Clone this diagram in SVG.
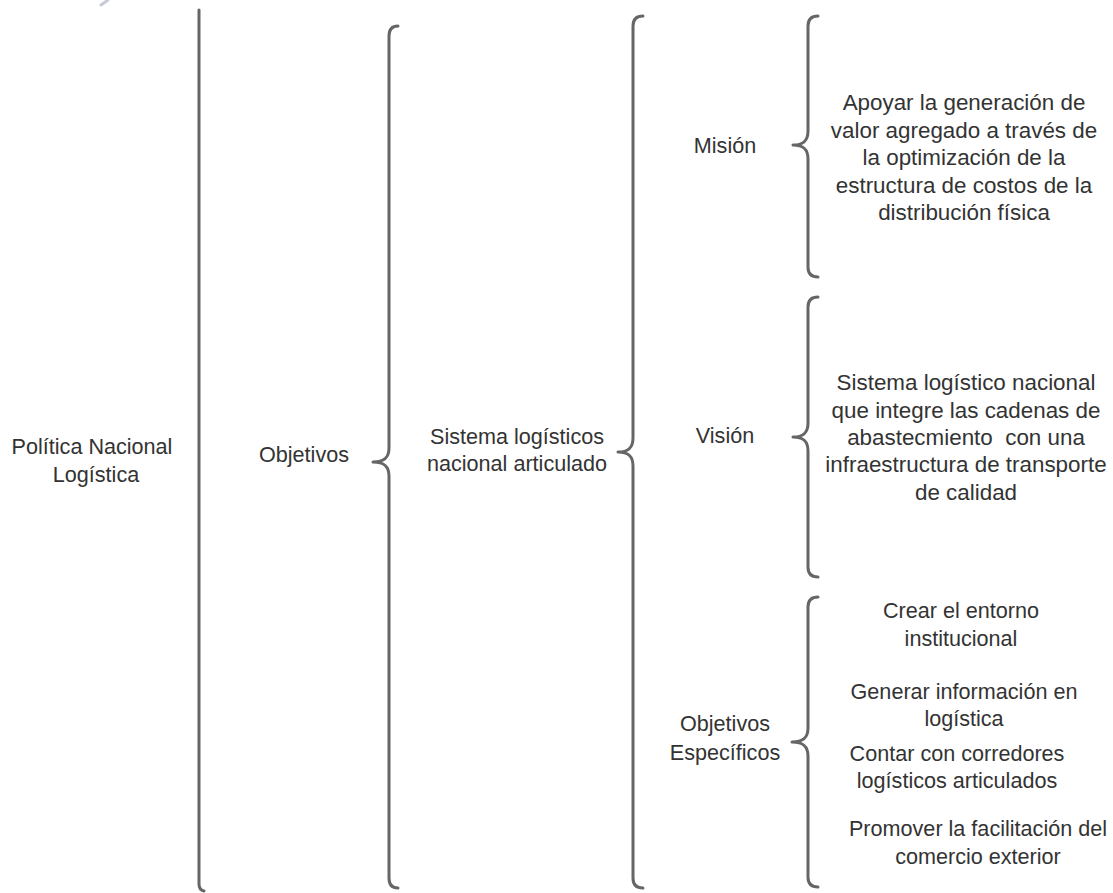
<svg xmlns="http://www.w3.org/2000/svg" width="1113" height="893" viewBox="0 0 1113 893">
  <style>
    .brace { fill: none; stroke: #666666; stroke-width: 3; stroke-linecap: round; stroke-linejoin: round; }
    text { font-family: "Liberation Sans", Arial, sans-serif; font-size: 21.6px; fill: #333333; text-anchor: middle; }
    .big text { font-size: 22.4px; }
  </style>
  <rect width="1113" height="893" fill="#ffffff"/>
  <!-- small mark at the top edge -->
  <path d="M108 0 L101 5" stroke="#c7cbd8" stroke-width="3" stroke-linecap="round" fill="none"/>

  <!-- braces linking each level to the next -->
  <g id="connectors">
    <path class="brace" d="M199 10 L199 884 Q199 890 204 891"/>
    <path class="brace" d="M398 26 Q389 26 389 36 L389 448 C389 458 384 462 373 462 C384 462 389 466 389 476 L389 878 Q389 888 398 888"/>
    <path class="brace" d="M643 16 Q633 16 633 26 L633 438 C633 448 628 452 618 452 C628 452 633 456 633 466 L633 878 Q633 888 643 888"/>
    <path class="brace" d="M818 16 Q808 16 808 26 L808 131 C808 141 803 145 793 145 C803 145 808 149 808 159 L808 267 Q808 277 818 277"/>
    <path class="brace" d="M818 297 Q808 297 808 307 L808 423 C808 433 803 437 793 437 C803 437 808 441 808 451 L808 567 Q808 577 818 577"/>
    <path class="brace" d="M818 597 Q808 597 808 607 L808 728 C808 738 803 742 792 742 C803 742 808 746 808 756 L808 877 Q808 887 818 887"/>
  </g>

  <g id="politica">
    <text x="92" y="454">Política Nacional</text>
    <text x="96" y="482">Logística</text>
  </g>
  <g id="objetivos">
    <text x="304" y="462">Objetivos</text>
  </g>
  <g id="sistema">
    <text x="517" y="444">Sistema logísticos</text>
    <text x="517" y="471">nacional articulado</text>
  </g>
  <g id="mision">
    <text x="725" y="153">Misión</text>
  </g>
  <g id="vision">
    <text x="725" y="443">Visión</text>
  </g>
  <g id="objetivos-especificos">
    <text x="725" y="731">Objetivos</text>
    <text x="725" y="760">Específicos</text>
  </g>
  <g id="mision-texto" class="big">
    <text x="964" y="110">Apoyar la generación de</text>
    <text x="964" y="138">valor agregado a través de</text>
    <text x="964" y="165">la optimización de la</text>
    <text x="964" y="193">estructura de costos de la</text>
    <text x="964" y="220">distribución física</text>
  </g>
  <g id="vision-texto" class="big">
    <text x="966" y="390">Sistema logístico nacional</text>
    <text x="966" y="418">que integre las cadenas de</text>
    <text x="966" y="445" xml:space="preserve">abastecmiento  con una</text>
    <text x="966" y="472">infraestructura de transporte</text>
    <text x="966" y="500">de calidad</text>
  </g>
  <g id="entorno">
    <text x="961" y="618">Crear el entorno</text>
    <text x="961" y="646">institucional</text>
  </g>
  <g id="informacion">
    <text x="964" y="699">Generar información en</text>
    <text x="964" y="726">logística</text>
  </g>
  <g id="corredores">
    <text x="957" y="761">Contar con corredores</text>
    <text x="957" y="788">logísticos articulados</text>
  </g>
  <g id="comercio">
    <text x="978" y="836">Promover la facilitación del</text>
    <text x="978" y="864">comercio exterior</text>
  </g>
</svg>
